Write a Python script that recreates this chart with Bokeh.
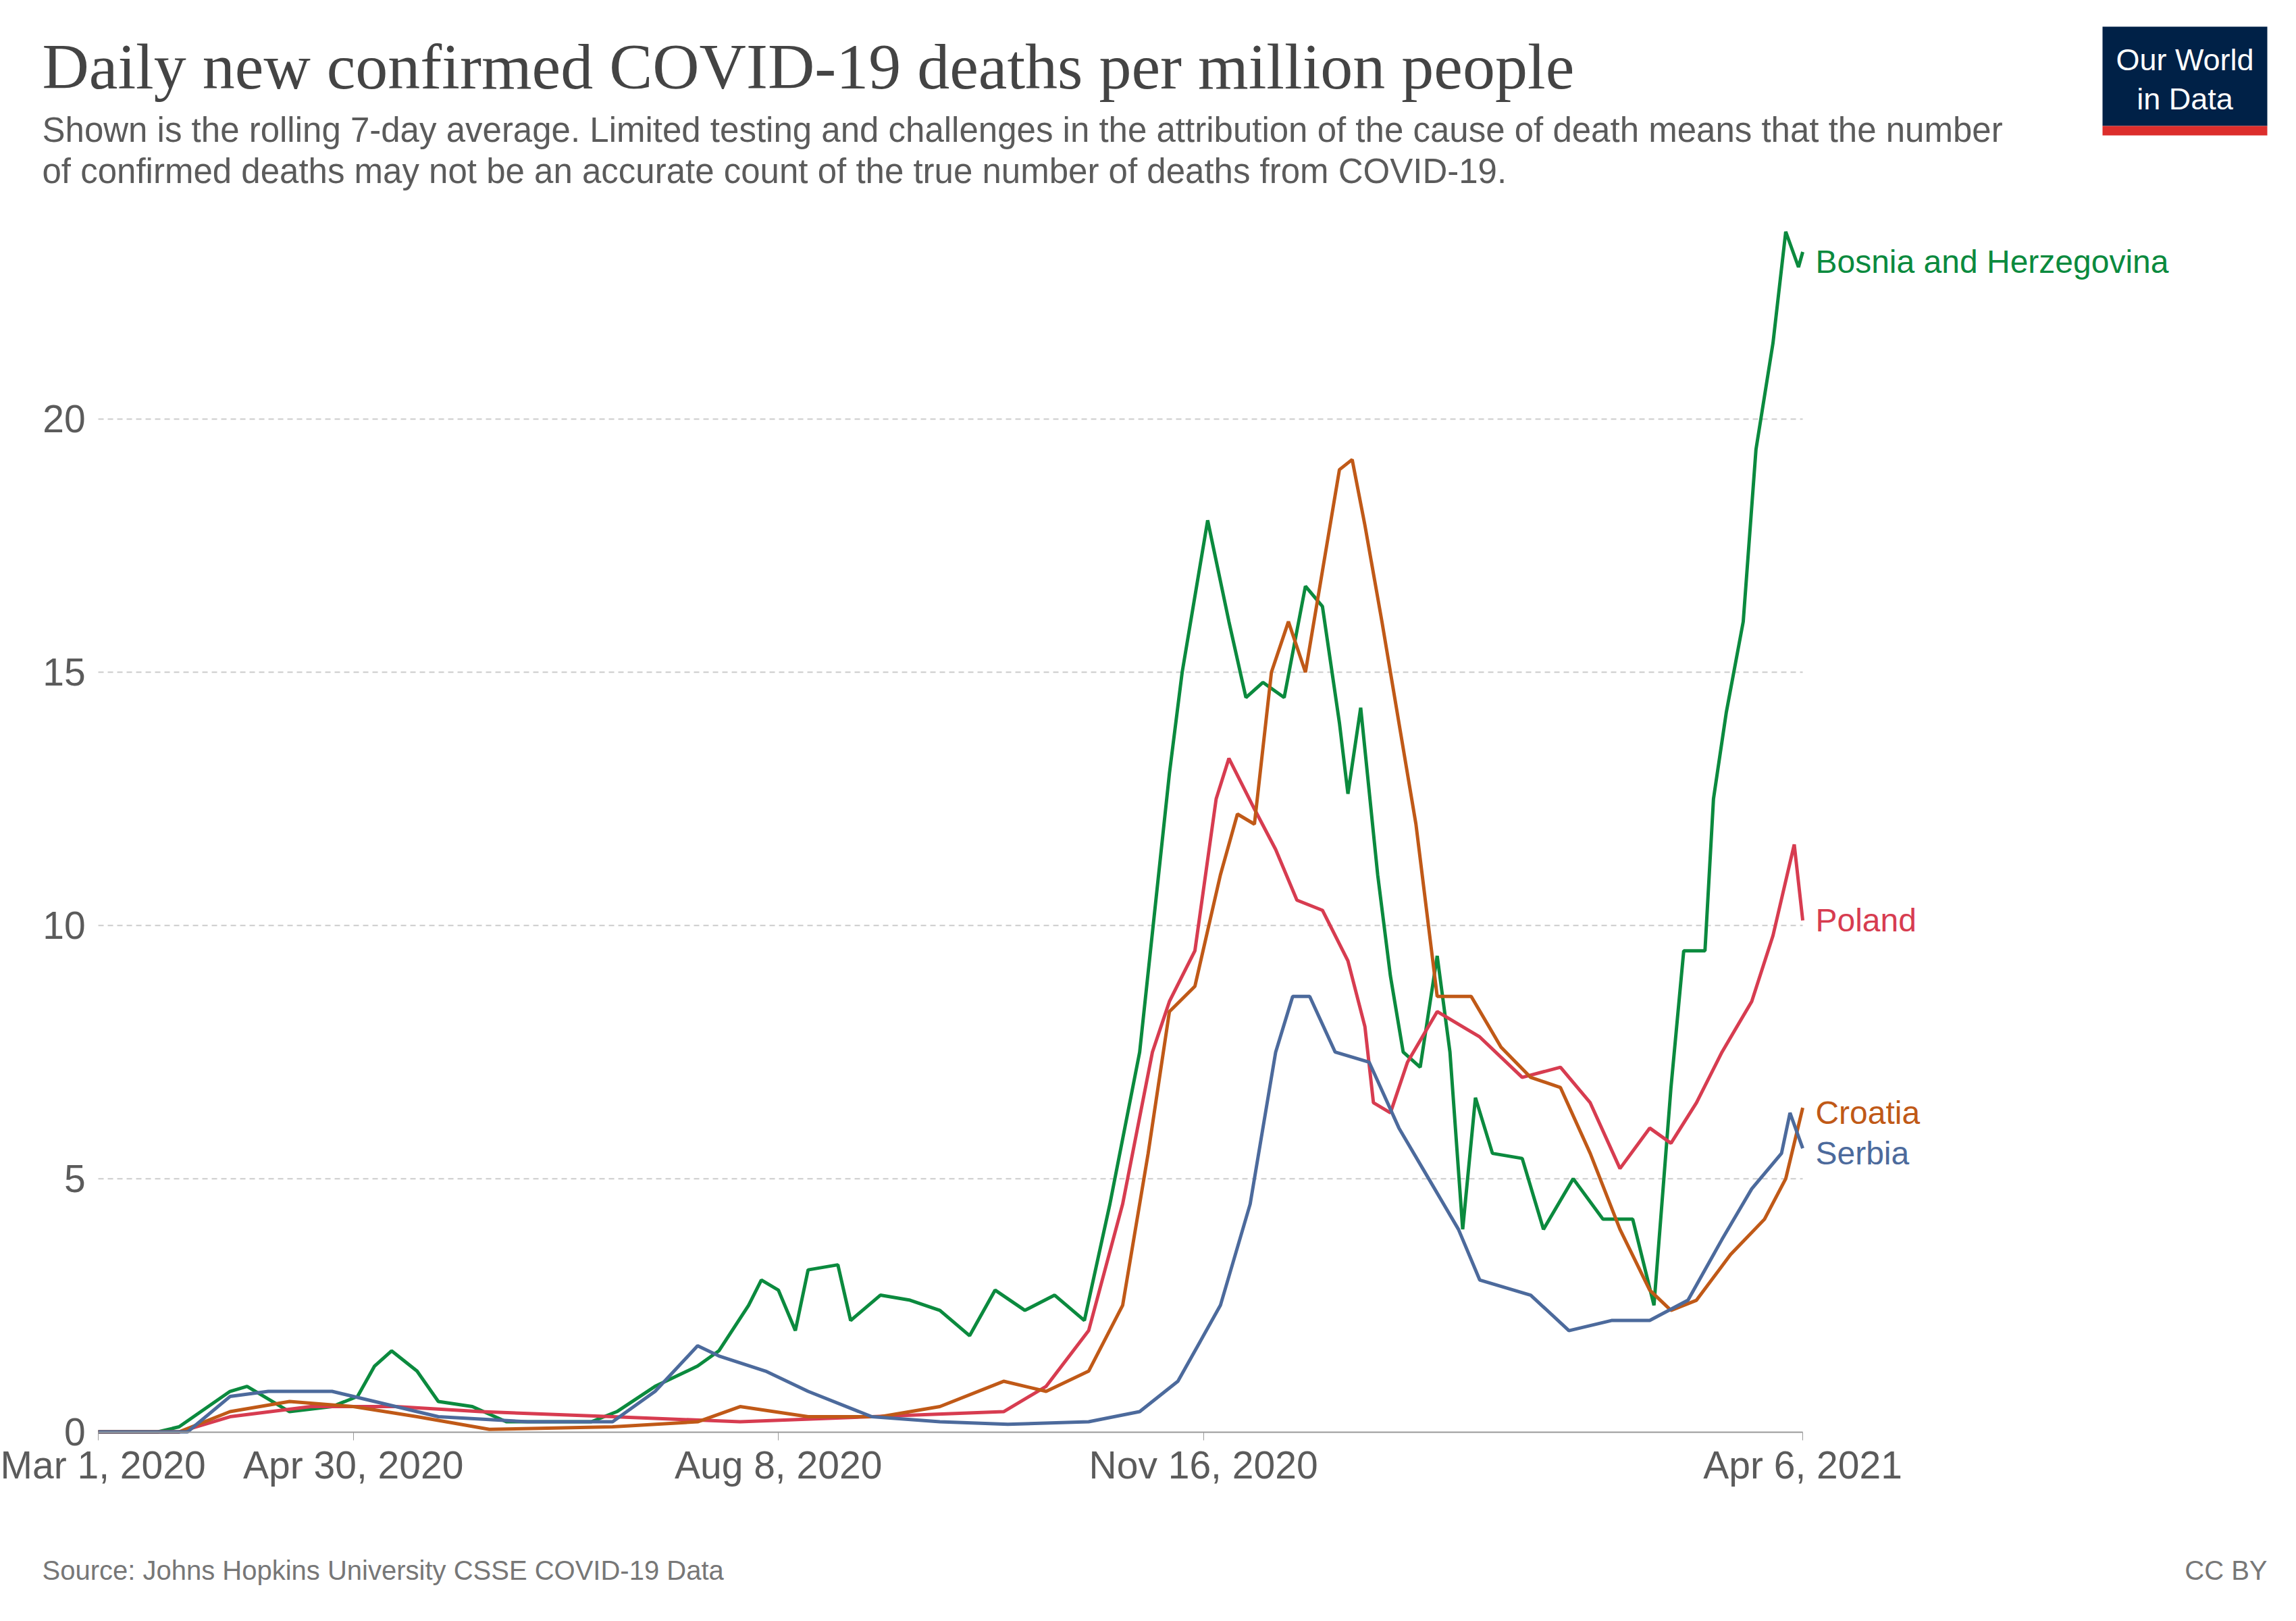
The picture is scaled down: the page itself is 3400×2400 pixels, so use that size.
import pandas as pd
from bokeh.plotting import figure
from bokeh.models import FixedTicker, Range1d
from bokeh.layouts import column
from bokeh.core.properties import value
from bokeh.embed import file_html
from bokeh.resources import INLINE

bih_dates = ["2020-03-01", "2020-03-15", "2020-03-20", "2020-04-01", "2020-04-05", "2020-04-15", "2020-04-25",
             "2020-05-01", "2020-05-05", "2020-05-09", "2020-05-15", "2020-05-20", "2020-05-28", "2020-06-05",
             "2020-06-15", "2020-06-25", "2020-07-01", "2020-07-10", "2020-07-20", "2020-07-25", "2020-08-01",
             "2020-08-04", "2020-08-08", "2020-08-12", "2020-08-15", "2020-08-22", "2020-08-25", "2020-09-01",
             "2020-09-08", "2020-09-15", "2020-09-22", "2020-09-28", "2020-10-05", "2020-10-12", "2020-10-19",
             "2020-10-25", "2020-11-01", "2020-11-08", "2020-11-11", "2020-11-17", "2020-11-22", "2020-11-26",
             "2020-11-30", "2020-12-05", "2020-12-10", "2020-12-14", "2020-12-18", "2020-12-20", "2020-12-23",
             "2020-12-27", "2020-12-30", "2021-01-02", "2021-01-06", "2021-01-10", "2021-01-13", "2021-01-16",
             "2021-01-19", "2021-01-23", "2021-01-30", "2021-02-04", "2021-02-11", "2021-02-18", "2021-02-25",
             "2021-03-02", "2021-03-06", "2021-03-09", "2021-03-14", "2021-03-16", "2021-03-19", "2021-03-23",
             "2021-03-26", "2021-03-30", "2021-04-02", "2021-04-05", "2021-04-06"]
bih_vals = [0, 0, 0.1, 0.8, 0.9, 0.4, 0.5, 0.7, 1.3, 1.6, 1.2, 0.6, 0.5, 0.2, 0.2, 0.2, 0.4, 0.9, 1.3, 1.6,
            2.5, 3.0, 2.8, 2.0, 3.2, 3.3, 2.2, 2.7, 2.6, 2.4, 1.9, 2.8, 2.4, 2.7, 2.2, 4.5, 7.5, 13.0, 15.0,
            18.0, 16.0, 14.5, 14.8, 14.5, 16.7, 16.3, 14.0, 12.6, 14.3, 11.0, 9.0, 7.5, 7.2, 9.4, 7.5, 4.0,
            6.6, 5.5, 5.4, 4.0, 5.0, 4.2, 4.2, 2.5, 6.8, 9.5, 9.5, 12.5, 14.2, 16.0, 19.4, 21.5, 23.7, 23.0, 23.3]

pol_dates = ["2020-03-01", "2020-03-20", "2020-04-01", "2020-04-20", "2020-05-10", "2020-05-30", "2020-06-30",
             "2020-07-30", "2020-08-30", "2020-09-30", "2020-10-10", "2020-10-20", "2020-10-28", "2020-11-04",
             "2020-11-08", "2020-11-14", "2020-11-19", "2020-11-22", "2020-11-28", "2020-12-03", "2020-12-08",
             "2020-12-14", "2020-12-20", "2020-12-24", "2020-12-26", "2020-12-30", "2021-01-03", "2021-01-10",
             "2021-01-20", "2021-01-30", "2021-02-08", "2021-02-15", "2021-02-22", "2021-03-01", "2021-03-06",
             "2021-03-12", "2021-03-18", "2021-03-25", "2021-03-30", "2021-04-04", "2021-04-06"]
pol_vals = [0, 0, 0.3, 0.5, 0.5, 0.4, 0.3, 0.2, 0.3, 0.4, 0.9, 2.0, 4.5, 7.5, 8.5, 9.5, 12.5, 13.3, 12.3,
            11.5, 10.5, 10.3, 9.3, 8.0, 6.5, 6.3, 7.3, 8.3, 7.8, 7.0, 7.2, 6.5, 5.2, 6.0, 5.7, 6.5, 7.5, 8.5,
            9.8, 11.6, 10.1]

cro_dates = ["2020-03-01", "2020-03-20", "2020-04-01", "2020-04-15", "2020-04-30", "2020-05-15", "2020-06-01",
             "2020-06-30", "2020-07-20", "2020-07-30", "2020-08-15", "2020-09-01", "2020-09-15", "2020-09-30",
             "2020-10-10", "2020-10-20", "2020-10-28", "2020-11-03", "2020-11-08", "2020-11-14", "2020-11-20",
             "2020-11-24", "2020-11-28", "2020-12-02", "2020-12-06", "2020-12-10", "2020-12-14", "2020-12-18",
             "2020-12-21", "2020-12-24", "2020-12-28", "2021-01-01", "2021-01-05", "2021-01-10", "2021-01-18",
             "2021-01-25", "2021-02-01", "2021-02-08", "2021-02-15", "2021-02-22", "2021-03-01", "2021-03-06",
             "2021-03-12", "2021-03-20", "2021-03-28", "2021-04-02", "2021-04-06"]
cro_vals = [0, 0, 0.4, 0.6, 0.5, 0.3, 0.05, 0.1, 0.2, 0.5, 0.3, 0.3, 0.5, 1.0, 0.8, 1.2, 2.5, 5.5, 8.3, 8.8,
            11.0, 12.2, 12.0, 15.0, 16.0, 15.0, 17.0, 19.0, 19.2, 17.9, 16.0, 14.0, 12.0, 8.6, 8.6, 7.6, 7.0,
            6.8, 5.5, 4.0, 2.8, 2.4, 2.6, 3.5, 4.2, 5.0, 6.4]

srb_dates = ["2020-03-01", "2020-03-22", "2020-04-01", "2020-04-10", "2020-04-25", "2020-05-05", "2020-05-20",
             "2020-06-10", "2020-06-30", "2020-07-10", "2020-07-20", "2020-07-25", "2020-08-05", "2020-08-15",
             "2020-08-30", "2020-09-15", "2020-10-01", "2020-10-20", "2020-11-01", "2020-11-10", "2020-11-20",
             "2020-11-27", "2020-12-03", "2020-12-07", "2020-12-11", "2020-12-17", "2020-12-25", "2021-01-01",
             "2021-01-08", "2021-01-15", "2021-01-20", "2021-02-01", "2021-02-10", "2021-02-20", "2021-03-01",
             "2021-03-10", "2021-03-18", "2021-03-25", "2021-04-01", "2021-04-03", "2021-04-06"]
srb_vals = [0, 0, 0.7, 0.8, 0.8, 0.6, 0.3, 0.2, 0.2, 0.8, 1.7, 1.5, 1.2, 0.8, 0.3, 0.2, 0.15, 0.2, 0.4, 1.0,
            2.5, 4.5, 7.5, 8.6, 8.6, 7.5, 7.3, 6.0, 5.0, 4.0, 3.0, 2.7, 2.0, 2.2, 2.2, 2.6, 3.8, 4.8, 5.5, 6.3, 5.6]

tick_dates = ["2020-03-01", "2020-04-30", "2020-08-08", "2020-11-16", "2021-04-06"]
tick_labels = ["Mar 1, 2020", "Apr 30, 2020", "Aug 8, 2020", "Nov 16, 2020", "Apr 6, 2021"]
y_ticks = [0, 5, 10, 15, 20]
grid_levels = [5, 10, 15, 20]

series = [
    ("Bosnia and Herzegovina", bih_dates, bih_vals, "#0b8a3e"),
    ("Poland", pol_dates, pol_vals, "#d73c50"),
    ("Croatia", cro_dates, cro_vals, "#c05917"),
    ("Serbia", srb_dates, srb_vals, "#4c6a9c"),
]
label_y = {"Bosnia and Herzegovina": 23.1, "Poland": 10.1, "Croatia": 6.3, "Serbia": 5.5}

title = "Daily new confirmed COVID-19 deaths per million people"
subtitle = ["Shown is the rolling 7-day average. Limited testing and challenges in the attribution of the cause of death means that the number",
            "of confirmed deaths may not be an accurate count of the true number of deaths from COVID-19."]
source = "Source: Johns Hopkins University CSSE COVID-19 Data"

FONT = "Liberation Sans"
GREY = "#5b5b5b"
W = 3384


def blank(height):
    # header / footer canvas, frame = whole figure, coords are pixels from top-left
    f = figure(width=W, height=height, output_backend="svg", toolbar_location=None,
               x_range=Range1d(0, W), y_range=Range1d(height, 0), min_border=0)
    f.axis.visible = False
    f.grid.grid_line_color = None
    f.outline_line_color = None
    return f


# header
head = blank(300)
head.text(x=[62], y=[98], text=[title], text_font=value("Liberation Serif"), text_font_size="96px",
          text_color="#444444", text_baseline="middle")
head.text(x=[62, 62], y=[192, 253], text=subtitle, text_font=value(FONT), text_font_size="51px",
          text_color=GREY, text_baseline="middle")
head.quad(left=[3113], right=[3357], top=[39], bottom=[186], fill_color="#002147", line_color=None)
head.quad(left=[3113], right=[3357], top=[186], bottom=[200], fill_color="#dc2e2c", line_color=None)
head.text(x=[3235, 3235], y=[88, 146], text=["Our World", "in Data"], text_font=value(FONT),
          text_font_size="45px", text_color="white", text_align="center", text_baseline="middle")

# main chart: frame spans the full width so the end labels and y labels are not clipped
start = pd.Timestamp("2020-03-01")
end = pd.Timestamp("2021-04-06")
x_lo = start - pd.Timedelta(hours=553)
x_hi = start + pd.Timedelta(hours=12350)

p = figure(x_axis_type="datetime", width=W, height=1950, output_backend="svg", toolbar_location=None,
           x_range=(x_lo, x_hi), y_range=(-1.74, 24), min_border_left=0, min_border_right=0,
           min_border_bottom=0, min_border_top=20)
p.outline_line_color = None

# dashed gridlines that stop at the last date
p.segment(x0=[start] * len(grid_levels), x1=[end] * len(grid_levels), y0=grid_levels, y1=grid_levels,
          line_color="#cccccc", line_dash="8 6", line_width=2)

# y tick labels
p.text(x=[start - pd.Timedelta(days=3)] * len(y_ticks), y=y_ticks, text=[str(t) for t in y_ticks],
       text_font=value(FONT), text_font_size="57px", text_color=GREY, text_align="right",
       text_baseline="middle")

for name, d, v, c in series:
    p.line(pd.to_datetime(d), v, line_color=c, line_width=5)
    p.text(x=[end + pd.Timedelta(days=3)], y=[label_y[name]], text=[name], text_color=c,
           text_font=value(FONT), text_font_size="48px", text_baseline="middle")

ticks = [pd.Timestamp(t).value / 1e6 for t in tick_dates]
p.xaxis.fixed_location = 0
p.xaxis.ticker = FixedTicker(ticks=ticks)
p.xaxis.bounds = (ticks[0], ticks[-1])
p.xaxis.major_label_overrides = {t: l for t, l in zip(ticks, tick_labels)}
p.xaxis.major_label_text_font = FONT
p.xaxis.major_label_text_font_size = "57px"
p.xaxis.major_label_text_color = GREY
p.xaxis.axis_line_color = "#999999"
p.xaxis.axis_line_width = 2
p.xaxis.major_tick_line_color = "#999999"
p.xaxis.major_tick_in = 0
p.xaxis.major_tick_out = 12
p.xaxis.minor_tick_line_color = None
p.yaxis.visible = False

p.xgrid.grid_line_color = None
p.ygrid.grid_line_color = None

# footer
foot = blank(134)
foot.text(x=[62], y=[74], text=[source], text_font=value(FONT), text_font_size="40px",
          text_color="#777777", text_baseline="middle")
foot.text(x=[3357], y=[74], text=["CC BY"], text_font=value(FONT), text_font_size="40px",
          text_color="#777777", text_baseline="middle", text_align="right")

layout = column(head, p, foot, spacing=0)
open("out.html", "w").write(file_html(layout, INLINE))
